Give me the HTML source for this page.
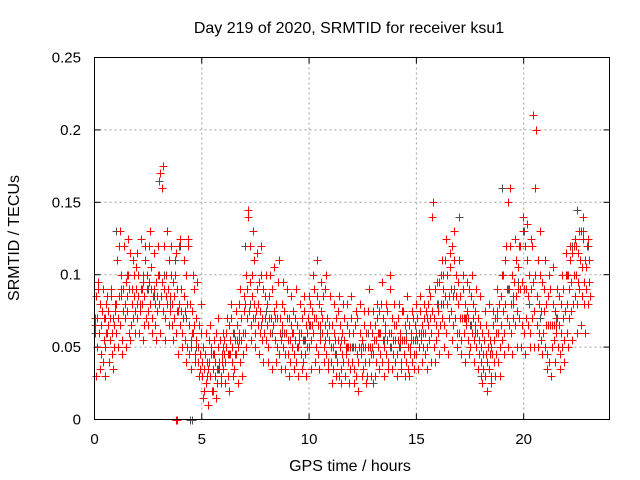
<!DOCTYPE html>
<html><head><meta charset="utf-8"><style>
body{margin:0;background:#fff}
svg{display:block;font-family:"Liberation Sans",sans-serif}
</style></head><body>
<svg id="chart" width="640" height="480" viewBox="0 0 640 480">
<text x="349" y="33" font-size="16" text-anchor="middle" fill="#000">Day 219 of 2020, SRMTID for receiver ksu1</text>
<text transform="translate(19,238) rotate(-90)" font-size="16" text-anchor="middle" fill="#000">SRMTID / TECUs</text>
<text x="350" y="471" font-size="16" text-anchor="middle" fill="#000">GPS time / hours</text>
<g id="grid"></g>
<g id="ticks"></g>
<g id="gray"></g>
<g id="red"></g>
<rect x="94.5" y="57.5" width="515" height="362" fill="none" stroke="#000" stroke-width="1"/>
</svg>
<script>
const xTicks=[0,5,10,15,20];
const yTicks=[0,0.05,0.1,0.15,0.2,0.25];
const yTickLabels=["0","0.05","0.1","0.15","0.2","0.25"];
const redA=[.07,.05,.06,.045,.04,.05,.06,.055,.045,.05,
.06,.07,.065,.055,.07,.075,.06,.065,.07,.075,
.07,.075,.08,.065,.07,.075,.08,.07,.065,.075,
.08,.085,.075,.07,.08,.075,.065,.07,.06,.075,
.065,.06,.055,.05,.045,.05,.06,.045,.04,.035,
.03,.02,.025,.035,.03,.02,.03,.025,.035,.03,
.035,.04,.03,.045,.04,.035,.045,.05,.04,.045,
.06,.07,.075,.065,.07,.06,.065,.06,.055,.06,
.055,.05,.06,.065,.055,.05,.045,.055,.05,.045,
.045,.04,.05,.045,.04,.05,.045,.04,.045,.05,
.05,.055,.06,.05,.045,.055,.06,.05,.045,.04,
.04,.035,.045,.04,.03,.035,.04,.045,.04,.035,
.04,.035,.03,.04,.045,.035,.04,.03,.04,.045,
.045,.04,.05,.045,.04,.05,.045,.04,.05,.045,
.04,.045,.05,.04,.045,.04,.035,.045,.04,.045,
.045,.05,.055,.05,.045,.05,.055,.06,.05,.055,
.06,.065,.07,.065,.06,.07,.075,.065,.07,.06,
.06,.055,.06,.065,.055,.05,.06,.055,.05,.045,
.04,.035,.03,.04,.035,.03,.04,.045,.04,.05,
.055,.06,.07,.065,.06,.07,.065,.075,.07,.065,
.06,.07,.065,.06,.07,.075,.065,.06,.055,.06,
.05,.045,.04,.05,.055,.06,.05,.045,.05,.055,
.06,.07,.075,.08,.085,.08,.09,.085,.08,.09,
.08];
const redB=[.085,.09,.08,.075,.07,.08,.075,.085,.07,.075,
.11,.12,.1,.09,.095,.1,.115,.09,.1,.105,
.1,.09,.095,.11,.1,.12,.105,.09,.095,.1,
.17,.16,.12,.1,.11,.1,.095,.1,.09,.12,
.09,.085,.1,.12,.08,.075,.09,.07,.065,.06,
.05,.045,.04,.055,.05,.045,.06,.05,.055,.045,
.055,.06,.065,.07,.06,.055,.065,.08,.07,.075,
.1,.14,.12,.1,.11,.09,.095,.1,.09,.085,
.08,.085,.09,.075,.08,.095,.07,.08,.075,.07,
.07,.065,.075,.07,.065,.06,.07,.075,.065,.07,
.08,.075,.09,.085,.08,.075,.085,.09,.07,.065,
.065,.06,.07,.075,.065,.06,.07,.065,.06,.07,
.06,.065,.07,.06,.055,.065,.06,.075,.065,.06,
.065,.07,.075,.08,.07,.065,.075,.09,.07,.065,
.065,.07,.06,.075,.065,.07,.065,.06,.07,.065,
.07,.075,.065,.07,.075,.08,.085,.14,.09,.08,
.095,.1,.09,.11,.1,.105,.12,.11,.1,.095,
.085,.09,.08,.075,.09,.085,.08,.075,.07,.065,
.06,.055,.065,.06,.055,.065,.07,.075,.08,.085,
.1,.11,.15,.12,.1,.095,.11,.105,.12,.13,
.12,.11,.1,.125,.21,.16,.11,.1,.095,.09,
.08,.085,.09,.08,.075,.07,.085,.08,.09,.1,
.1,.11,.115,.12,.12,.115,.13,.125,.11,.12,
.11];
const redC=[.065,.07,.06,.065,.055,.06,.065,.07,.06,.065,
.08,.085,.09,.075,.08,.085,.09,.08,.085,.09,
.085,.08,.09,.085,.09,.095,.09,.085,.08,.085,
.1,.095,.09,.085,.09,.085,.08,.085,.075,.08,
.075,.07,.075,.08,.065,.06,.065,.055,.05,.045,
.04,.035,.03,.04,.045,.035,.04,.035,.04,.04,
.045,.05,.045,.055,.05,.045,.055,.06,.055,.06,
.08,.09,.095,.085,.08,.075,.08,.075,.07,.07,
.065,.07,.07,.065,.07,.07,.06,.065,.06,.06,
.055,.055,.06,.055,.05,.055,.06,.055,.055,.06,
.065,.065,.07,.07,.065,.065,.07,.065,.06,.055,
.05,.05,.055,.055,.05,.045,.055,.05,.05,.05,
.05,.05,.045,.05,.05,.05,.05,.05,.05,.05,
.055,.055,.06,.06,.055,.06,.055,.06,.06,.055,
.055,.055,.055,.055,.055,.055,.05,.05,.055,.055,
.055,.06,.06,.06,.06,.065,.07,.075,.07,.065,
.075,.08,.08,.085,.08,.085,.09,.085,.085,.08,
.07,.07,.07,.07,.07,.065,.07,.065,.06,.055,
.05,.045,.045,.05,.045,.045,.055,.06,.06,.065,
.075,.08,.09,.09,.08,.08,.085,.09,.09,.095,
.09,.09,.085,.09,.095,.1,.085,.08,.075,.075,
.065,.065,.065,.065,.065,.065,.065,.06,.07,.075,
.08,.09,.095,.1,.1,.095,.11,.105,.095,.105,
.095];
const redD=[.03,.095,.035,.09,.03,.085,.04,.09,.035,.08,
.05,.13,.045,.12,.05,.125,.055,.11,.06,.115,
.06,.125,.055,.12,.065,.13,.06,.115,.055,.12,
.06,.175,.055,.13,.065,.12,.055,.115,.045,.125,
.05,.11,.04,.125,.035,.1,.04,.095,.03,.08,
.015,.06,.01,.065,.02,.055,.015,.07,.025,.06,
.025,.07,.02,.08,.03,.075,.025,.09,.03,.085,
.05,.145,.055,.13,.05,.115,.045,.12,.04,.1,
.04,.1,.035,.105,.04,.11,.035,.095,.035,.09,
.03,.085,.035,.09,.03,.08,.035,.085,.03,.085,
.035,.1,.04,.11,.035,.095,.04,.1,.035,.085,
.025,.08,.03,.085,.025,.08,.03,.08,.025,.085,
.025,.075,.02,.08,.03,.075,.025,.09,.03,.075,
.03,.08,.035,.095,.03,.08,.035,.1,.035,.08,
.03,.08,.035,.075,.03,.085,.03,.075,.035,.08,
.035,.085,.04,.08,.035,.09,.04,.15,.04,.095,
.045,.11,.05,.125,.045,.115,.055,.13,.05,.11,
.045,.1,.04,.095,.045,.1,.04,.09,.035,.085,
.025,.075,.02,.08,.025,.075,.03,.09,.03,.1,
.045,.12,.05,.16,.045,.125,.05,.12,.05,.14,
.045,.135,.05,.12,.05,.2,.05,.13,.045,.11,
.035,.1,.03,.105,.04,.09,.035,.1,.04,.115,
.05,.12,.055,.125,.06,.13,.065,.14,.06,.125,
.085];
const grayVals=[.06,.08,.07,.09,.13,.085,.1,.09,.08,.1,.09,.085,.165,.1,.08,.11,.12,.07,.055,.05,
.04,.03,.045,.035,.05,.045,.06,.055,.12,.08,.07,.065,.075,.06,.07,.06,.055,.06,.05,.055,
.065,.07,.06,.055,.05,.045,.055,.05,.05,.045,.05,.06,.025,.06,.055,.05,.055,.05,.06,.055,
.06,.065,.07,.075,.08,.1,.085,.09,.14,.07,.065,.06,.03,.045,.05,.07,.16,.09,.085,.095,
.13,.08,.075,.07,.05,.065,.07,.06,.1,.12,.145,.13,.12];
const redExtraT=[3.8,3.85];
const redExtraV=[0,0];
const grayExtraT=[4.45,4.55];
const grayExtraV=[0,0];

const X0=94.5,X1=609.5,Y0=419.5,Y1=57.5;
const xs=t=>X0+(t/24)*(X1-X0);
const ys=v=>Y0-(v/0.25)*(Y0-Y1);
const NS="http://www.w3.org/2000/svg";
function mk(tag,attrs,parent){const e=document.createElementNS(NS,tag);for(const k in attrs)e.setAttribute(k,attrs[k]);parent.appendChild(e);return e;}
const grid=document.getElementById('grid'),ticks=document.getElementById('ticks'),svg=document.getElementById('chart');
xTicks.forEach(t=>{
  const x=xs(t);
  if(t>0){const g=mk('line',{x1:x,x2:x,y1:Y1,y2:Y0,stroke:'#a0a0a0','stroke-dasharray':'2,3'},grid);
  
  }
  mk('line',{x1:x,x2:x,y1:Y0,y2:Y0-6,stroke:'#000'},ticks);
  mk('line',{x1:x,x2:x,y1:Y1,y2:Y1+6,stroke:'#000'},ticks);
  const l=mk('text',{x:x,y:444,'font-size':15,'text-anchor':'middle',fill:'#000'},svg);
  l.textContent=String(t);
  
  
});
yTicks.forEach((v,i)=>{
  const y=ys(v);
  if(v>0&&v<0.25){const g=mk('line',{x1:X0,x2:X1,y1:y,y2:y,stroke:'#a0a0a0','stroke-dasharray':'2,3'},grid);
  
  }
  mk('line',{x1:X0,x2:X0+6,y1:y,y2:y,stroke:'#000'},ticks);
  mk('line',{x1:X1,x2:X1-6,y1:y,y2:y,stroke:'#000'},ticks);
  const l=mk('text',{x:81,y:y+5,'font-size':15,'text-anchor':'end',fill:'#000'},svg);
  l.textContent=yTickLabels[i];
  
  
});
function plus(g,t,v,col,name){
  const x=Math.round(xs(t))+0.5,y=Math.round(ys(v))+0.5;
  const p=mk('path',{d:`M${x-4} ${y}H${x+4}M${x} ${y-4}V${y+4}`,stroke:col,'stroke-width':1,fill:'none'},g);
  
  
}
const gG=document.getElementById('gray'),gR=document.getElementById('red');
grayVals.forEach((v,i)=>plus(gG,i*0.25,v,'#505050','gray-point'));
grayExtraT.forEach((t,i)=>plus(gG,t,grayExtraV[i],'#505050','gray-point'));
redA.forEach((v,i)=>plus(gR,i*0.1,v,'#ff0000','red-point'));
redB.forEach((v,i)=>plus(gR,i*0.1+0.05,v,'#ff0000','red-point'));
redC.forEach((v,i)=>plus(gR,i*0.1+0.025,v,'#ff0000','red-point'));
redD.forEach((v,i)=>plus(gR,i*0.1+0.075,v,'#ff0000','red-point'));
redExtraT.forEach((t,i)=>plus(gR,t,redExtraV[i],'#ff0000','red-point'));
</script>
</body></html>
